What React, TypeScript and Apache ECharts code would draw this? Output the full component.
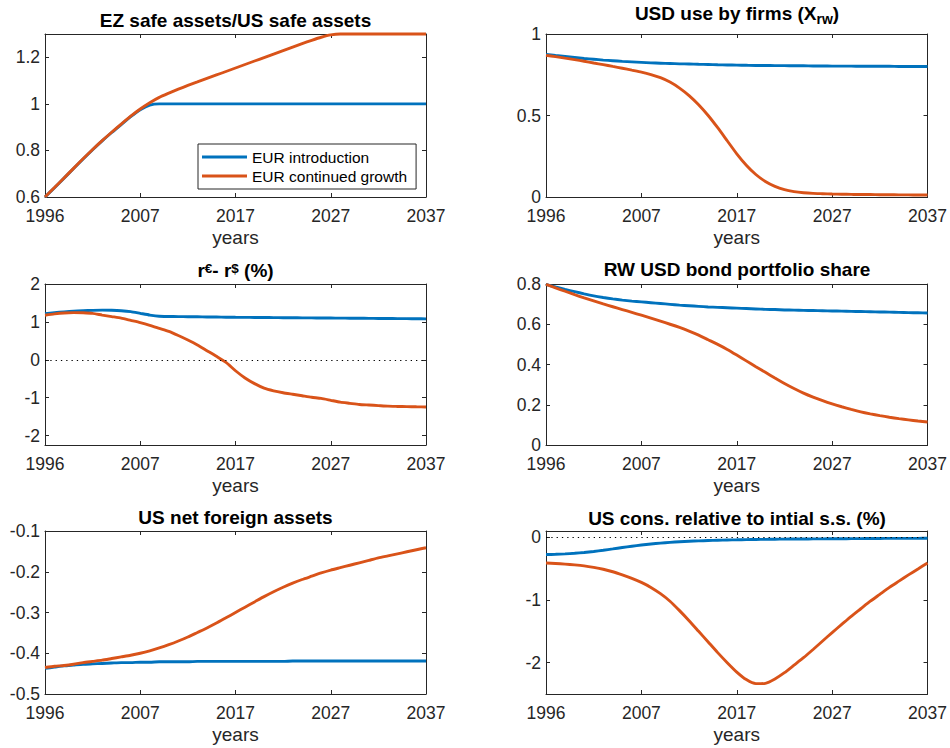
import React, { useEffect, useRef } from 'react';
import * as echarts from 'echarts';

// ---------- data ----------
const periods = Array.from({ length: 41 }, (_, i) => i); // model period index 0..40
const yearTickPositions = [0, 10, 20, 30, 40];
const yearTickLabels = ['1996', '2007', '2017', '2027', '2037'];
const seriesNames = ['EUR introduction', 'EUR continued growth'];

// EZ safe assets / US safe assets
const ezUsIntro = [0.6, 0.64, 0.681, 0.722, 0.763, 0.803, 0.841, 0.877, 0.911, 0.945, 0.975, 0.995, 1.0,
  1, 1, 1, 1, 1, 1, 1, 1, 1, 1, 1, 1, 1, 1, 1,
  1, 1, 1, 1, 1, 1, 1, 1, 1, 1, 1, 1, 1];
const ezUsGrowth = [0.6, 0.641, 0.682, 0.723, 0.764, 0.804, 0.842, 0.878, 0.913, 0.947, 0.978, 1.005, 1.028,
  1.046, 1.063, 1.079, 1.094, 1.109, 1.124, 1.139, 1.154, 1.169, 1.184, 1.199, 1.214, 1.229, 1.244, 1.259,
  1.273, 1.286, 1.296, 1.3, 1.3, 1.3, 1.3, 1.3, 1.3, 1.3, 1.3, 1.3, 1.3];
const ezUsTicks = [0.6, 0.8, 1, 1.2];

// USD use by firms
const usdFirmsIntro = [0.875, 0.868, 0.862, 0.856, 0.85, 0.845, 0.84, 0.836, 0.832, 0.829, 0.826, 0.823,
  0.821, 0.819, 0.817, 0.816, 0.814, 0.813, 0.811, 0.81, 0.809, 0.808, 0.807, 0.807, 0.806, 0.806, 0.805,
  0.805, 0.804, 0.804, 0.803, 0.803, 0.803, 0.802, 0.802, 0.802, 0.802, 0.801, 0.801, 0.801, 0.801];
const usdFirmsGrowth = [0.869, 0.861, 0.852, 0.843, 0.833, 0.822, 0.812, 0.801, 0.79, 0.778, 0.766, 0.751,
  0.732, 0.705, 0.668, 0.622, 0.566, 0.5, 0.425, 0.345, 0.265, 0.195, 0.138, 0.095, 0.065, 0.045, 0.033, 0.026,
  0.022, 0.02, 0.018, 0.017, 0.016, 0.015, 0.015, 0.014, 0.014, 0.013, 0.013, 0.012, 0.012];
const usdFirmsTicks = [0, 0.5, 1];

// r€ - r$ (%)
const rateDiffIntro = [1.215, 1.24, 1.265, 1.285, 1.297, 1.305, 1.31, 1.307, 1.295, 1.27, 1.225, 1.18, 1.148,
  1.143, 1.14, 1.137, 1.134, 1.13, 1.127, 1.124, 1.121, 1.119, 1.117, 1.115, 1.113, 1.111, 1.109, 1.107,
  1.105, 1.103, 1.101, 1.099, 1.097, 1.095, 1.093, 1.091, 1.089, 1.087, 1.085, 1.083, 1.08];
const rateDiffGrowth = [1.175, 1.21, 1.235, 1.245, 1.24, 1.225, 1.18, 1.14, 1.1, 1.04, 0.98, 0.91, 0.83,
  0.75, 0.64, 0.52, 0.39, 0.24, 0.09, -0.07, -0.29, -0.48, -0.63, -0.75, -0.82, -0.87, -0.91, -0.95, -0.99,
  -1.02, -1.07, -1.12, -1.15, -1.18, -1.195, -1.21, -1.225, -1.232, -1.238, -1.242, -1.245];
const rateDiffTicks = [-2, -1, 0, 1, 2];

// RW USD bond portfolio share
const bondIntro = [0.798, 0.785, 0.773, 0.762, 0.751, 0.741, 0.733, 0.726, 0.72, 0.715, 0.711, 0.707, 0.703,
  0.699, 0.695, 0.692, 0.689, 0.686, 0.684, 0.682, 0.68, 0.678, 0.676, 0.674, 0.673, 0.671, 0.67, 0.669,
  0.668, 0.667, 0.666, 0.665, 0.664, 0.663, 0.662, 0.661, 0.66, 0.659, 0.658, 0.657, 0.656];
const bondGrowth = [0.798, 0.781, 0.764, 0.747, 0.731, 0.716, 0.701, 0.687, 0.673, 0.659, 0.645, 0.63, 0.615,
  0.6, 0.584, 0.566, 0.546, 0.523, 0.5, 0.475, 0.447, 0.418, 0.389, 0.361, 0.333, 0.306, 0.281, 0.258, 0.238,
  0.22, 0.204, 0.19, 0.177, 0.165, 0.155, 0.146, 0.138, 0.131, 0.125, 0.119, 0.114];
const bondTicks = [0, 0.2, 0.4, 0.6, 0.8];

// US net foreign assets
const nfaIntro = [-0.437, -0.434, -0.431, -0.429, -0.427, -0.426, -0.425, -0.424, -0.423, -0.423, -0.422,
  -0.422, -0.421, -0.421, -0.421, -0.421, -0.42, -0.42, -0.42, -0.42, -0.42, -0.42, -0.42, -0.42, -0.42,
  -0.42, -0.419, -0.419, -0.419, -0.419, -0.419, -0.419, -0.419, -0.419, -0.419, -0.419, -0.419, -0.419,
  -0.419, -0.419, -0.419];
const nfaGrowth = [-0.435, -0.432, -0.43, -0.427, -0.423, -0.42, -0.417, -0.413, -0.409, -0.405, -0.4, -0.394,
  -0.387, -0.379, -0.37, -0.36, -0.349, -0.338, -0.326, -0.313, -0.3, -0.287, -0.274, -0.261, -0.249, -0.238,
  -0.228, -0.219, -0.211, -0.203, -0.196, -0.19, -0.184, -0.178, -0.172, -0.166, -0.161, -0.156, -0.151,
  -0.146, -0.141];
const nfaTicks = [-0.5, -0.4, -0.3, -0.2, -0.1];

// US consumption relative to initial s.s. (%)
const consIntro = [-0.276, -0.272, -0.265, -0.255, -0.242, -0.226, -0.207, -0.186, -0.164, -0.143, -0.124,
  -0.107, -0.093, -0.081, -0.071, -0.063, -0.057, -0.052, -0.047, -0.043, -0.04, -0.037, -0.035, -0.033,
  -0.031, -0.029, -0.028, -0.027, -0.026, -0.025, -0.024, -0.023, -0.022, -0.021, -0.02, -0.019, -0.018,
  -0.018, -0.017, -0.017, -0.016];
const consGrowth = [-0.41, -0.418, -0.428, -0.44, -0.456, -0.48, -0.51, -0.55, -0.6, -0.655, -0.72, -0.8,
  -0.9, -1.02, -1.17, -1.33, -1.5, -1.67, -1.84, -2.0, -2.15, -2.27, -2.335, -2.33, -2.26, -2.16, -2.04,
  -1.92, -1.79, -1.655, -1.52, -1.39, -1.26, -1.14, -1.02, -0.91, -0.8, -0.7, -0.6, -0.505, -0.41];
const consTicks = [-2, -1, 0];

// ---------- styling ----------
const BLUE = '#0072BD';
const ORANGE = '#D95319';
const AXIS = '#262626';
const FONT = '"Liberation Sans", Arial, Helvetica, sans-serif';
const TICK_FS = 17.5;
const TITLE_FS = 19;

const titleMain = { fontSize: TITLE_FS, fontWeight: 'bold', fontFamily: FONT, fill: '#000' };

const panels = [
  { title: 'EZ safe assets/US safe assets', titleY: 20, left: 45, top: 34, width: 381, height: 163,
    yMin: 0.6, yMax: 1.3, ticks: ezUsTicks, blue: ezUsIntro, orange: ezUsGrowth, zero: false },
  { title: '{m|USD use by firms (X}{sub|rw}{m|)}', titleY: 13.4, left: 546, top: 34, width: 382, height: 163,
    yMin: 0, yMax: 1, ticks: usdFirmsTicks, blue: usdFirmsIntro, orange: usdFirmsGrowth, zero: false,
    rich: { m: { ...titleMain, lineHeight: 26 }, sub: { ...titleMain, fontSize: 14, lineHeight: 15, verticalAlign: 'bottom' } } },
  { title: '{m|r}{sup|€}{m|- r}{sup|$}{m| (%)}', titleY: 270.7, left: 45, top: 284, width: 381, height: 161,
    yMin: -2.25, yMax: 2, ticks: rateDiffTicks, blue: rateDiffIntro, orange: rateDiffGrowth, zero: true,
    rich: { m: { ...titleMain, lineHeight: 18 }, sup: { ...titleMain, fontSize: 13.5, lineHeight: 13, verticalAlign: 'top' } } },
  { title: 'RW USD bond portfolio share', titleY: 269.4, left: 546, top: 284, width: 382, height: 161,
    yMin: 0, yMax: 0.8, ticks: bondTicks, blue: bondIntro, orange: bondGrowth, zero: false },
  { title: 'US net foreign assets', titleY: 517.4, left: 45, top: 531, width: 381, height: 163,
    yMin: -0.5, yMax: -0.1, ticks: nfaTicks, blue: nfaIntro, orange: nfaGrowth, zero: false },
  { title: 'US cons. relative to intial s.s. (%)', titleY: 518.4, left: 546, top: 531, width: 382, height: 163,
    yMin: -2.5, yMax: 0.1, ticks: consTicks, blue: consIntro, orange: consGrowth, zero: true },
];

function buildOption() {
  const grid: any[] = [];
  const xAxis: any[] = [];
  const yAxis: any[] = [];
  const series: any[] = [];
  const graphic: any[] = [];

  const lineAxis = { show: true, onZero: false, lineStyle: { color: AXIS, width: 1 } };
  const tick = { show: true, inside: true, length: 4, lineStyle: { color: AXIS, width: 1 } };

  panels.forEach((p, i) => {
    grid.push({ left: p.left, top: p.top, width: p.width, height: p.height, containLabel: false });
    xAxis.push({
      type: 'value', gridIndex: i, min: 0, max: 40, interval: 10, position: 'bottom',
      axisLine: lineAxis,
      axisTick: { ...tick, customValues: yearTickPositions },
      axisLabel: {
        show: true, margin: 10, color: AXIS, fontSize: TICK_FS, fontFamily: FONT,
        customValues: yearTickPositions,
        formatter: (v: number) => {
          const k = yearTickPositions.indexOf(Math.round(v));
          return k >= 0 ? yearTickLabels[k] : '';
        },
      },
      splitLine: { show: false },
      name: 'years', nameLocation: 'middle', nameGap: 31,
      nameTextStyle: { fontSize: TITLE_FS, color: AXIS, fontFamily: FONT },
    });
    xAxis.push({
      type: 'value', gridIndex: i, min: 0, max: 40, interval: 10, position: 'top',
      axisLine: lineAxis,
      axisTick: { ...tick, customValues: yearTickPositions },
      axisLabel: { show: false },
      splitLine: { show: false },
    });
    yAxis.push({
      type: 'value', gridIndex: i, min: p.yMin, max: p.yMax, position: 'left',
      axisLine: lineAxis,
      axisTick: { ...tick, customValues: p.ticks },
      axisLabel: {
        show: true, margin: 5, color: AXIS, fontSize: TICK_FS, fontFamily: FONT,
        customValues: p.ticks,
        formatter: (v: number) => String(Math.round(v * 1000) / 1000),
      },
      splitLine: { show: false },
    });
    yAxis.push({
      type: 'value', gridIndex: i, min: p.yMin, max: p.yMax, position: 'right',
      axisLine: lineAxis,
      axisTick: { ...tick, customValues: p.ticks },
      axisLabel: { show: false },
      splitLine: { show: false },
    });

    const mk = (name: string, vals: number[], color: string, withZero: boolean) => ({
      type: 'line', name, xAxisIndex: 2 * i, yAxisIndex: 2 * i,
      data: periods.map((t, k) => [t, vals[k]]),
      showSymbol: false, symbol: 'none', smooth: 0.2, clip: false,
      lineStyle: { color, width: 2.9 }, itemStyle: { color },
      emphasis: { disabled: true }, silent: true,
      markLine: withZero ? {
        silent: true, symbol: ['none', 'none'], label: { show: false },
        lineStyle: { type: [1.3, 4], color: '#000', width: 1.2 },
        emphasis: { disabled: true },
        data: [{ yAxis: 0 }],
      } : undefined,
    });
    series.push(mk(seriesNames[0], p.blue, BLUE, p.zero));
    series.push(mk(seriesNames[1], p.orange, ORANGE, false));

    const cx = p.left + p.width / 2;
    graphic.push({
      type: 'text', x: cx, y: p.titleY, z: 10,
      style: p.rich
        ? { text: p.title, rich: p.rich, align: 'center', verticalAlign: 'middle', ...titleMain }
        : { text: p.title, align: 'center', verticalAlign: 'middle', ...titleMain },
    });
  });

  return {
    animation: false,
    backgroundColor: '#ffffff',
    textStyle: { fontFamily: FONT },
    grid, xAxis, yAxis, series, graphic,
    legend: {
      show: true, left: 198, top: 144, orient: 'vertical',
      data: seriesNames, icon: 'rect', itemWidth: 45, itemHeight: 3, itemGap: 1,
      padding: [4, 9, 4, 4], backgroundColor: '#ffffff', borderColor: AXIS, borderWidth: 1,
      selectedMode: false,
      textStyle: { fontSize: 15.5, fontFamily: FONT, color: '#000', lineHeight: 18 },
    },
  };
}

export default function App() {
  const ref = useRef<HTMLDivElement>(null);
  useEffect(() => {
    if (!ref.current) return;
    const chart = echarts.init(ref.current, undefined, { renderer: 'svg' });
    chart.setOption(buildOption() as any);
    return () => chart.dispose();
  }, []);
  return (
    <div
      ref={ref}
      style={{ position: 'absolute', left: 0, top: 0, width: 950, height: 748, background: '#fff' }}
    />
  );
}
